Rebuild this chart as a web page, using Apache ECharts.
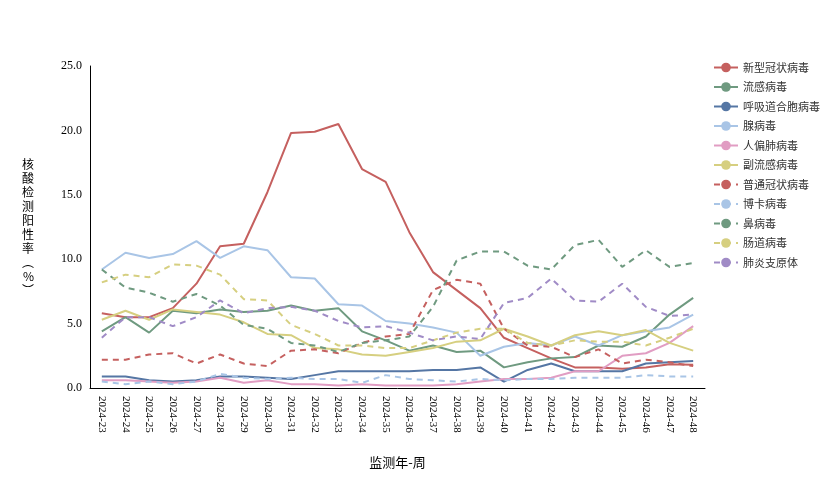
<!DOCTYPE html>
<html lang="zh">
<head>
    <meta charset="UTF-8">
    <script src="https://cdn.jsdelivr.net/npm/echarts@6/dist/echarts.min.js"></script>
    <style>
        body { margin: 0; background: #fff; }
        #main { width: 833px; height: 489px; }
    </style>
</head>
<body>
    <div id="main"></div>
    <script type="text/javascript">
        var weeks = [];
        for (var w = 23; w <= 48; w++) weeks.push('2024-' + w);

        var xinguan = [5.8, 5.5, 5.5, 6.2, 8.1, 11.0, 11.2, 15.2, 19.8, 19.9, 20.5, 17.0, 16.0, 12.1, 9.0, 7.6, 6.2, 3.9, 3.1, 2.3, 1.6, 1.6, 1.5, 1.6, 1.85, 1.8];
        var liugan = [4.4, 5.5, 4.3, 6.0, 5.8, 6.1, 5.9, 6.0, 6.4, 6.0, 6.2, 4.4, 3.7, 2.9, 3.3, 2.8, 2.9, 1.6, 2.0, 2.3, 2.4, 3.3, 3.2, 4.0, 5.7, 7.0];
        var hxdhb = [0.9, 0.9, 0.6, 0.5, 0.6, 0.9, 0.9, 0.8, 0.7, 1.0, 1.3, 1.3, 1.3, 1.3, 1.4, 1.4, 1.6, 0.5, 1.4, 1.9, 1.3, 1.3, 1.3, 1.9, 2.0, 2.1];
        var xian = [9.2, 10.5, 10.1, 10.4, 11.4, 10.1, 11.0, 10.7, 8.6, 8.5, 6.5, 6.4, 5.2, 5.0, 4.7, 4.3, 2.5, 3.2, 3.5, 3.3, 4.0, 3.3, 4.1, 4.4, 4.7, 5.7];
        var renpianfei = [0.6, 0.6, 0.5, 0.4, 0.5, 0.8, 0.4, 0.6, 0.3, 0.3, 0.2, 0.3, 0.2, 0.2, 0.2, 0.3, 0.5, 0.7, 0.7, 0.8, 1.3, 1.3, 2.5, 2.7, 3.5, 4.8];
        var fuliugan = [5.3, 6.0, 5.3, 6.1, 5.9, 5.7, 5.1, 4.2, 4.1, 3.1, 3.0, 2.6, 2.5, 2.8, 3.1, 3.6, 3.7, 4.6, 4.0, 3.3, 4.1, 4.4, 4.1, 4.5, 3.5, 2.9];
        var putongguan = [2.2, 2.2, 2.6, 2.7, 1.9, 2.6, 1.9, 1.7, 2.9, 3.0, 2.7, 3.5, 4.0, 4.2, 7.6, 8.4, 8.1, 4.6, 3.3, 3.2, 2.4, 3.0, 1.9, 2.2, 2.0, 1.7];
        var boka = [0.5, 0.3, 0.5, 0.3, 0.5, 1.1, 0.8, 0.7, 0.8, 0.7, 0.7, 0.4, 1.0, 0.7, 0.6, 0.5, 0.7, 0.6, 0.7, 0.7, 0.8, 0.8, 0.8, 1.0, 0.9, 0.9];
        var bi = [9.2, 7.8, 7.4, 6.7, 7.3, 6.4, 4.9, 4.6, 3.5, 3.3, 2.8, 3.5, 3.7, 4.0, 6.3, 9.9, 10.6, 10.6, 9.5, 9.2, 11.1, 11.5, 9.4, 10.7, 9.4, 9.7];
        var changdao = [8.2, 8.8, 8.6, 9.6, 9.5, 8.8, 6.9, 6.8, 4.9, 4.2, 3.3, 3.3, 3.1, 3.1, 3.7, 4.3, 4.6, 4.6, 3.5, 3.3, 3.7, 3.6, 3.6, 3.3, 3.9, 4.6];
        var zhiyuanti = [3.9, 5.5, 5.5, 4.8, 5.5, 6.8, 5.8, 6.2, 6.3, 6.0, 5.2, 4.7, 4.8, 4.3, 3.7, 4.0, 3.8, 6.6, 7.0, 8.5, 6.8, 6.7, 8.1, 6.3, 5.6, 5.7];

        var seriesDefs = [
            ['新型冠状病毒', xinguan, '#c5605f', 'solid'],
            ['流感病毒', liugan, '#6f9a80', 'solid'],
            ['呼吸道合胞病毒', hxdhb, '#5576a4', 'solid'],
            ['腺病毒', xian, '#a9c5e6', 'solid'],
            ['人偏肺病毒', renpianfei, '#e19dc3', 'solid'],
            ['副流感病毒', fuliugan, '#d6cf80', 'solid'],
            ['普通冠状病毒', putongguan, '#c5605f', 'dashed'],
            ['博卡病毒', boka, '#a9c5e6', 'dashed'],
            ['鼻病毒', bi, '#6f9a80', 'dashed'],
            ['肠道病毒', changdao, '#d6cf80', 'dashed'],
            ['肺炎支原体', zhiyuanti, '#a08bc6', 'dashed']
        ];

        var chart = echarts.init(document.getElementById('main'));
        var option = {
            animation: false,
            textStyle: { fontFamily: 'Noto Sans CJK SC' },
            legend: {
                orient: 'vertical',
                left: 708,
                top: 57,
                itemWidth: 24,
                itemHeight: 12,
                itemGap: 8.5,
                textStyle: { fontSize: 11, color: '#333' },
                data: seriesDefs.map(function (d) { return d[0]; })
            },
            grid: { left: 90, right: 128, top: 66, bottom: 101 },
            xAxis: {
                type: 'category',
                data: weeks,
                boundaryGap: true,
                name: '监测年-周',
                nameLocation: 'middle',
                nameGap: 68,
                nameTextStyle: { fontSize: 13, color: '#000' },
                axisLine: { lineStyle: { color: '#000' } },
                axisTick: { lineStyle: { color: '#000' } },
                axisLabel: { rotate: -90, interval: 0, color: '#000', fontSize: 11, fontFamily: 'Liberation Serif' }
            },
            yAxis: {
                type: 'value',
                min: 0,
                max: 25,
                interval: 5,
                name: '核\n酸\n检\n测\n阳\n性\n率\n︵\n%\n︶',
                nameLocation: 'middle',
                nameGap: 56,
                nameRotate: 0,
                nameTextStyle: { fontSize: 12, color: '#000', lineHeight: 14 },
                axisLine: { show: true, lineStyle: { color: '#000' } },
                axisTick: { show: false },
                splitLine: { show: false },
                axisLabel: {
                    color: '#000', fontSize: 12, fontFamily: 'Liberation Serif',
                    formatter: function (v) { return v.toFixed(1); }
                }
            },
            series: seriesDefs.map(function (d) {
                return {
                    name: d[0],
                    type: 'line',
                    data: d[1],
                    symbol: 'none',
                    color: d[2],
                    lineStyle: { width: 2, color: d[2], type: d[3] === 'dashed' ? [6, 5] : 'solid' }
                };
            })
        };
        chart.setOption(option);
    </script>
</body>
</html>
